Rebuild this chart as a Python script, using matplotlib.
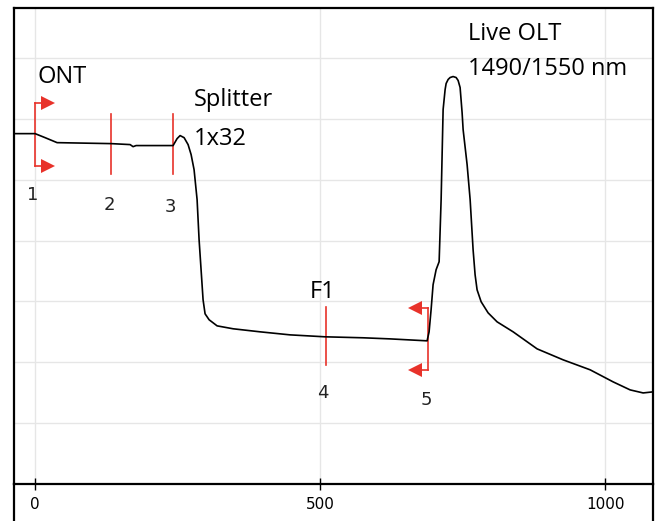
# OTDR trace: ONT -> splitter -> F1 -> live OLT
import numpy as np
import matplotlib.pyplot as plt
from matplotlib.lines import Line2D

# Trace (distance, level)
dist = np.array([-37, 0, 17.5, 38.6, 133.3, 166.7, 171.9, 177.2, 242.1, 249.1, 254.4,
                 261.4, 268.4, 273.7, 278.9, 284.2, 287.7, 291.2, 294.7, 298.2, 305.3,
                 319.3, 347.4, 394.7, 447.4, 508.8, 575.4, 622.8, 687.7, 691.2, 694.7,
                 698.2, 703.5, 708.8, 712.3, 715.8, 719.3, 721.1, 724.6, 728.1, 733.3,
                 738.6, 742.1, 745.6, 749.1, 750.9, 757.9, 763.2, 768.4, 771.9, 775.4,
                 782.5, 794.7, 810.5, 838.6, 880.7, 926.3, 973.7, 1014.0, 1043.9, 1066.7,
                 1084.2])
level = np.array([28.78, 28.78, 28.45, 28.04, 27.96, 27.88, 27.71, 27.80, 27.80, 28.37, 28.62,
                  28.45, 27.88, 27.06, 25.82, 23.36, 20.07, 17.60, 15.13, 13.98, 13.49,
                  12.99, 12.75, 12.50, 12.25, 12.09, 12.01, 11.92, 11.76, 12.50, 14.31,
                  16.37, 17.60, 18.26, 23.36, 30.76, 32.40, 32.90, 33.23, 33.39, 33.47,
                  33.39, 33.15, 32.57, 30.51, 29.11, 26.23, 23.36, 19.24, 17.19, 15.95,
                  14.97, 14.06, 13.32, 12.50, 11.10, 10.20, 9.38, 8.39, 7.73, 7.48,
                  7.57])

# Event markers
mark_x = [0, 133.3, 242.1, 510.5, 689.5]
mark_lo = [26.15, 25.49, 25.49, 9.79, 9.38]
mark_hi = [31.33, 30.43, 30.43, 14.56, 14.47]
mark_labels = ['1', '2', '3', '4', '5']
mark_label_x = [-3.5, 129.8, 236.8, 505.3, 686]
mark_label_y = [23.77, 22.95, 22.78, 7.48, 6.91]

# Event names
names = ['ONT', 'Splitter', '1x32', 'F1', 'Live OLT', '1490/1550 nm']
name_x = [3.5, 278.9, 278.9, 482.5, 759.6, 759.6]
name_y = [33.47, 31.58, 28.37, 15.79, 36.93, 34.05]

red = '#e8322a'

fig = plt.figure(figsize=(6.59, 5.21), dpi=100)
ax = fig.add_axes([14/659, 37/521, 639/659, 476/521])

ax.plot(dist, level, color='black', lw=1.2, zorder=3)

for x, lo, hi in zip(mark_x, mark_lo, mark_hi):
    ax.plot([x, x], [lo, hi], color=red, lw=1.2, zorder=2)

# arrows at marker 1 (pointing right) and 5 (pointing left)
for y in [mark_lo[0], mark_hi[0]]:
    ax.plot([mark_x[0], 17.5], [y, y], color=red, lw=1.2)
    ax.plot(23, y, marker='>', color=red, markersize=10, markeredgewidth=0)
for y in [mark_lo[4], mark_hi[4]]:
    ax.plot([mark_x[4], 671.9], [y, y], color=red, lw=1.2)
    ax.plot(666, y, marker='<', color=red, markersize=10, markeredgewidth=0)

for t, x, y in zip(mark_labels, mark_label_x, mark_label_y):
    ax.text(x, y, t, fontsize=13, ha='center', va='center', color='#222222')

for t, x, y in zip(names, name_x, name_y):
    ax.text(x, y, t, fontsize=17, ha='left', va='center', family='Open Sans', color='black')

ax.set_xlim(-37, 1084)
ax.set_ylim(0, 39.1)
ax.set_xticks([0, 500, 1000])
ax.set_yticks(range(5, 40, 5))
ax.set_yticklabels([])
ax.tick_params(axis='y', length=0)
ax.tick_params(axis='x', direction='inout', length=9, width=1, labelsize=11, pad=5)
ax.grid(True, color='#e6e6e6', lw=1)
ax.set_axisbelow(True)
for s in ax.spines.values():
    s.set_linewidth(1.6)

# frame continues below the axis line
fig.add_artist(Line2D([14/659, 14/659], [0, 37/521], color='black', lw=1.6))
fig.add_artist(Line2D([653/659, 653/659], [0, 37/521], color='black', lw=1.6))

fig.savefig('out.png', dpi=100)
